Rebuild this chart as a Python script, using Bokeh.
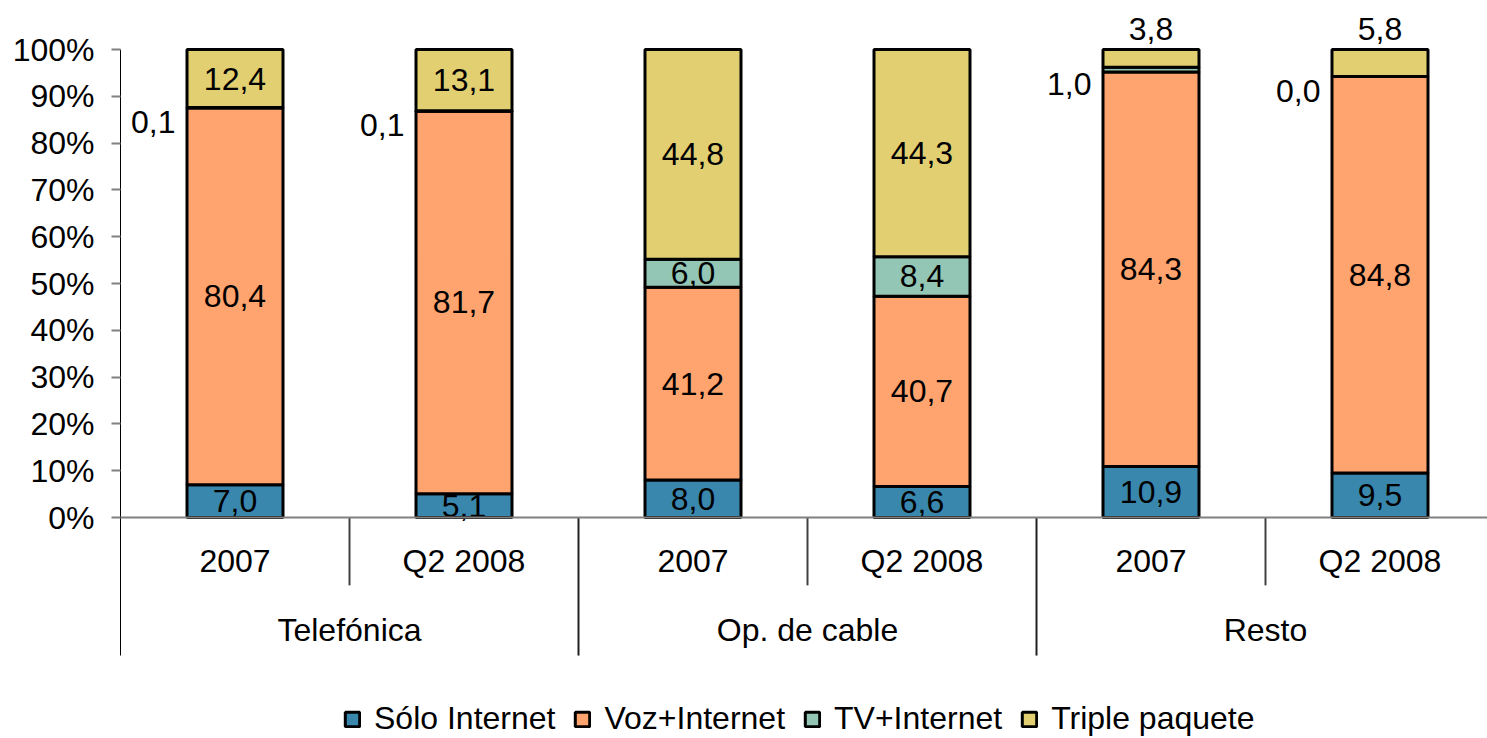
import numpy as np
from bokeh.plotting import figure
from bokeh.models import ColumnDataSource, Range1d, FixedTicker, Span, Legend, LegendItem
from bokeh.core.properties import value
from bokeh.embed import file_html
from bokeh.resources import INLINE

# ---------------- data ----------------
groups = ["Telefónica", "Op. de cable", "Resto"]
periods = ["2007", "Q2 2008"]
solo_internet = [7.0, 5.1, 8.0, 6.6, 10.9, 9.5]
voz_internet = [80.4, 81.7, 41.2, 40.7, 84.3, 84.8]
tv_internet = [0.1, 0.1, 6.0, 8.4, 1.0, 0.0]
triple_paquete = [12.4, 13.1, 44.8, 44.3, 3.8, 5.8]
series_names = ["Sólo Internet", "Voz+Internet", "TV+Internet", "Triple paquete"]
y_ticks = [0, 10, 20, 30, 40, 50, 60, 70, 80, 90, 100]

# ---------------- style / layout ----------------
colors = ["#3A87AE", "#FFA46E", "#93C6B4", "#E1CF71"]
FONT = "Liberation Sans"
FS = "32px"
W, H = 1487, 738
LEFT = 120
PX_Y = 4.68          # pixels per percent
PX_X = 229.0         # pixels per bar category
ZERO_PX = 517        # 0% line, from the top of the figure
BAR_W = 96 / PX_X

y_top = ZERO_PX / PX_Y
y_bot = y_top - H / PX_Y
x_end = (W - LEFT) / PX_X

series = [solo_internet, voz_internet, tv_internet, triple_paquete]
keys = ["solo", "voz", "tv", "triple"]
n = len(solo_internet)
raw = np.array(series, dtype=float)           # 4 x n
pct = raw / raw.sum(axis=0) * 100.0           # 100% stacked

xs = np.arange(n) + 0.5
data = {"x": xs}
for k, row in zip(keys, pct):
    data[k] = row
source = ColumnDataSource(data)

p = figure(width=W, height=H, output_backend="svg", toolbar_location=None,
           x_range=Range1d(0, x_end), y_range=Range1d(y_bot, y_top),
           x_axis_location=None,
           min_border_left=LEFT, min_border_right=0, min_border_top=0, min_border_bottom=0)
p.outline_line_color = None
p.xgrid.visible = False
p.ygrid.visible = False
p.background_fill_color = "white"

renderers = p.vbar_stack(keys, x="x", width=BAR_W, source=source,
                         fill_color=colors, line_color="black", line_width=3)

# y axis
ax = p.yaxis[0]
ax.ticker = FixedTicker(ticks=y_ticks)
ax.major_label_overrides = {t: f"{t}%" for t in y_ticks}
ax.bounds = (-29.5, 100)
ax.axis_line_color = "black"
ax.axis_line_width = 1
ax.major_tick_line_color = "#808080"
ax.major_tick_line_width = 2
ax.major_tick_out = 9
ax.major_tick_in = 0
ax.minor_tick_line_color = None
ax.major_label_standoff = 17
ax.major_label_text_font = FONT
ax.major_label_text_font_size = FS
ax.major_label_text_color = "black"

# horizontal category axis line at 0
p.add_layout(Span(location=0, dimension="width", line_color="#808080", line_width=2))

# separators of the category axis
inner = [i for i in range(1, n) if i % 2 == 1]
outer = [i for i in range(2, n + 1) if i % 2 == 0]
p.segment(x0=inner, y0=[0] * len(inner), x1=inner, y1=[-14.5] * len(inner),
          line_color="#404040", line_width=2)
p.segment(x0=outer, y0=[0] * len(outer), x1=outer, y1=[-29.5] * len(outer),
          line_color="#202020", line_width=2)

# category labels
cat_labels = periods * len(groups)
p.text(x=list(xs), y=[-9.2] * n, text=cat_labels, text_align="center",
       text_baseline="middle", text_font=value(FONT), text_font_size=FS, text_color="black")
p.text(x=[2 * g + 1 for g in range(len(groups))], y=[-24.0] * len(groups), text=groups,
       text_align="center", text_baseline="middle", text_font=value(FONT),
       text_font_size=FS, text_color="black")

# data labels
lx, ly, lt, la = [], [], [], []
cum = np.cumsum(pct, axis=0)
for s in range(4):
    for i in range(n):
        v = raw[s, i]
        top = cum[s, i]
        bottom = top - pct[s, i]
        mid = (top + bottom) / 2
        txt = f"{v:.1f}".replace(".", ",")
        if s == 2 and v < 2:           # tiny TV segment: label left of the bar
            lx.append(xs[i] - BAR_W / 2 - 0.05); ly.append(mid - 3.0); la.append("right")
        elif s == 3 and v < 7:         # thin top segment: label above the bar
            lx.append(xs[i]); ly.append(104.4); la.append("center")
        else:
            lx.append(xs[i]); ly.append(mid); la.append("center")
        lt.append(txt)
lsrc = ColumnDataSource(dict(x=lx, y=ly, t=lt, a=la))
p.text(x="x", y="y", text="t", text_align="a", text_baseline="middle", source=lsrc,
       text_font=value(FONT), text_font_size=FS, text_color="black")

# legend
legend = Legend(items=[LegendItem(label=nm, renderers=[r]) for nm, r in zip(series_names, renderers)],
                orientation="horizontal", location=(223, 1), padding=0, margin=0,
                spacing=18, glyph_width=18, glyph_height=18, label_standoff=13,
                label_text_font=FONT, label_text_font_size=FS, label_text_color="black",
                border_line_color=None, background_fill_alpha=0)
p.add_layout(legend)

open("out.html", "w").write(file_html(p, INLINE))
